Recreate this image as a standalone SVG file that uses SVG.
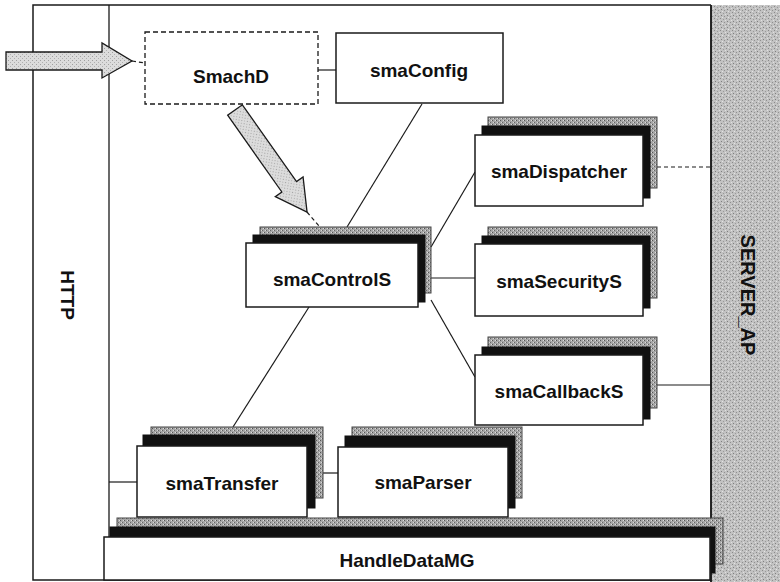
<svg xmlns="http://www.w3.org/2000/svg" width="780" height="582" viewBox="0 0 780 582">
<defs>
<pattern id="grain" width="6" height="6" patternUnits="userSpaceOnUse">
<rect width="6" height="6" fill="#c2c2c2"/>
<rect x="0" y="0" width="1" height="1" fill="#8a8a8a"/>
<rect x="3" y="1" width="1" height="1" fill="#9a9a9a"/>
<rect x="1" y="3" width="1" height="1" fill="#808080"/>
<rect x="4" y="4" width="1" height="1" fill="#909090"/>
<rect x="5" y="2" width="1" height="1" fill="#e0e0e0"/>
<rect x="2" y="5" width="1" height="1" fill="#e4e4e4"/>
</pattern>
<pattern id="shade" width="4" height="4" patternUnits="userSpaceOnUse">
<rect width="4" height="4" fill="#a6a6a6"/>
<rect x="0" y="0" width="1" height="1" fill="#555"/>
<rect x="2" y="2" width="1" height="1" fill="#666"/>
<rect x="3" y="0" width="1" height="1" fill="#ddd"/>
<rect x="1" y="2" width="1" height="1" fill="#d8d8d8"/>
</pattern>
<pattern id="light" width="4" height="4" patternUnits="userSpaceOnUse">
<rect width="4" height="4" fill="#dcdcdc"/>
<rect x="0" y="0" width="1" height="1" fill="#a0a0a0"/>
<rect x="2" y="2" width="1" height="1" fill="#b0b0b0"/>
</pattern>
</defs>
<style>
.frame{fill:none;stroke:#1a1a1a;stroke-width:1.5}
.box{fill:#fff;stroke:#1a1a1a;stroke-width:1.5}
.dbox{fill:#fff;stroke:#1a1a1a;stroke-width:1.3;stroke-dasharray:5 3}
.l2{fill:url(#shade);stroke:#444;stroke-width:1}
.l1{fill:#111;stroke:#111;stroke-width:1}
.lbl{font-family:"Liberation Sans",Arial,sans-serif;font-weight:bold;font-size:19px;fill:#111;text-anchor:middle}
.con{stroke:#1a1a1a;stroke-width:1.2;fill:none}
.dash{stroke:#1a1a1a;stroke-width:1.2;fill:none;stroke-dasharray:4 3}
.arrow{fill:url(#light);stroke:#1a1a1a;stroke-width:1.3}
</style>
<rect width="780" height="582" fill="#fff"/>

<g id="SERVER_AP">
<rect x="711" y="5" width="69" height="577" fill="url(#grain)"/>
<line x1="711" y1="5" x2="711" y2="582" stroke="#111" stroke-width="1.8"/>
<text class="lbl" transform="translate(748,295) rotate(90)" dy="7" style="font-size:20px">SERVER_AP</text>
</g>

<g id="HTTP">
<path class="frame" d="M711,5 H33 V580 H711"/>
<line x1="109" y1="5" x2="109" y2="537" stroke="#1a1a1a" stroke-width="1.3"/>
<text class="lbl" transform="translate(68,295) rotate(90)" dy="7">HTTP</text>
</g>

<g id="connectors">
<line class="con" x1="318" y1="70" x2="336" y2="70"/>
<line class="con" x1="422" y1="104" x2="347" y2="227"/>
<line class="con" x1="431" y1="247" x2="475" y2="172"/>
<line class="con" x1="431" y1="278" x2="475" y2="278"/>
<line class="con" x1="431" y1="300" x2="475" y2="377"/>
<line class="dash" x1="657" y1="167" x2="711" y2="167"/>
<line class="con" x1="657" y1="385" x2="711" y2="385"/>
<line class="con" x1="309" y1="307" x2="233" y2="427"/>
<line class="con" x1="109" y1="482" x2="137" y2="482"/>
<line class="con" x1="323" y1="473" x2="338" y2="473"/>
<line class="dash" x1="132" y1="61" x2="145" y2="63"/>
<line class="dash" x1="307" y1="212" x2="319" y2="226"/>
<polygon class="arrow" points="6,52 102,52 102,43 132,61 102,78 102,70 6,70"/>
<polygon class="arrow" transform="translate(235,110) rotate(54.8)" points="0,-9 94,-9 94,-17 125,0 94,17 94,9 0,9"/>
</g>

<g id="SmachD">
<rect class="dbox" x="145" y="32" width="173" height="72"/>
<text class="lbl" x="231" y="83">SmachD</text>
</g>

<g id="smaConfig">
<rect class="box" x="336" y="33" width="167" height="70"/>
<text class="lbl" x="419" y="77">smaConfig</text>
</g>

<g id="smaControlS">
<rect class="l2" x="260" y="227" width="171" height="66"/>
<rect class="l1" x="253" y="235" width="172" height="67"/>
<rect class="box" x="246" y="243" width="172" height="64"/>
<text class="lbl" x="332" y="286">smaControlS</text>
</g>

<g id="smaDispatcher">
<rect class="l2" x="488" y="117" width="169" height="71"/>
<rect class="l1" x="482" y="126" width="168" height="72"/>
<rect class="box" x="475" y="135" width="168" height="71"/>
<text class="lbl" x="559" y="178">smaDispatcher</text>
</g>

<g id="smaSecurityS">
<rect class="l2" x="488" y="227" width="169" height="71"/>
<rect class="l1" x="482" y="236" width="168" height="72"/>
<rect class="box" x="475" y="244" width="168" height="72"/>
<text class="lbl" x="559" y="288">smaSecurityS</text>
</g>

<g id="smaCallbackS">
<rect class="l2" x="488" y="337" width="169" height="71"/>
<rect class="l1" x="482" y="347" width="168" height="72"/>
<rect class="box" x="475" y="355" width="168" height="70"/>
<text class="lbl" x="559" y="398">smaCallbackS</text>
</g>

<g id="smaTransfer">
<rect class="l2" x="151" y="427" width="172" height="71"/>
<rect class="l1" x="143" y="435" width="172" height="73"/>
<rect class="box" x="137" y="446" width="170" height="71"/>
<text class="lbl" x="222" y="490">smaTransfer</text>
</g>

<g id="smaParser">
<rect class="l2" x="352" y="427" width="170" height="71"/>
<rect class="l1" x="345" y="436" width="170" height="72"/>
<rect class="box" x="338" y="447" width="170" height="70"/>
<text class="lbl" x="423" y="489">smaParser</text>
</g>

<g id="HandleDataMG">
<rect class="l2" x="117" y="518" width="606" height="46"/>
<rect class="l1" x="110" y="527" width="605" height="46"/>
<rect class="box" x="104" y="537" width="606" height="43"/>
<text class="lbl" x="407" y="567">HandleDataMG</text>
</g>
</svg>
